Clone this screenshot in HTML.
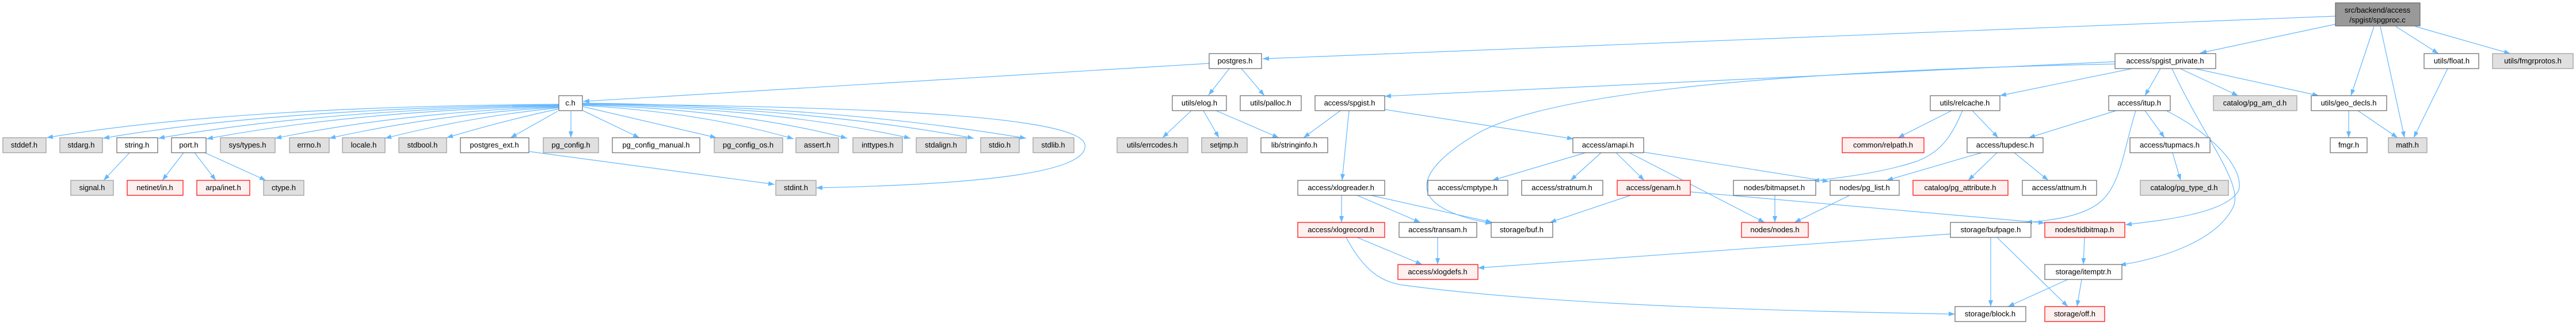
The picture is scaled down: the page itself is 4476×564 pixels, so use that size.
<!DOCTYPE html>
<html><head><meta charset="utf-8"><style>
html,body{margin:0;padding:0;background:#fff;}
svg{display:block;}
text{font-family:"Liberation Sans",sans-serif;font-size:13px;fill:#000;text-anchor:middle;}
.w{fill:#fff;stroke:#666;stroke-width:1.2}
.g{fill:#e0e0e0;stroke:#999;stroke-width:1.2}
.r{fill:#fff0f0;stroke:#f00;stroke-width:1.2}
.e{fill:none;stroke:#63b8ff;stroke-width:1.2;marker-end:url(#a)}
</style></head><body>
<svg width="4476" height="564" viewBox="0 0 4476 564" xmlns="http://www.w3.org/2000/svg">
<defs><marker id="a" markerUnits="userSpaceOnUse" markerWidth="11" markerHeight="8" refX="11" refY="4" orient="auto"><path d="M0,0 L11,4 L0,8 z" fill="#63b8ff"/></marker></defs>
<g>
<!-- root edges -->
<path class="e" d="M4058,28 L2194,102"/>
<path class="e" d="M4058,42 L3823,92"/>
<path class="e" d="M4125,46 L4085,166"/>
<path class="e" d="M4136,46 L4178,239"/>
<path class="e" d="M4163,46 L4237,93"/>
<path class="e" d="M4197,46 L4362,93"/>
<!-- postgres -->
<path class="e" d="M2101,110 L1013,176"/>
<path class="e" d="M2136,119 L2100,165"/>
<path class="e" d="M2157,119 L2197,166"/>
<path class="e" d="M2070,192 L2020,239"/>
<path class="e" d="M2091,192 L2118,239"/>
<path class="e" d="M2113,192 L2222,239"/>
<!-- spgist.h -->
<path class="e" d="M2329,192 L2265,239"/>
<path class="e" d="M2344,192 L2332,313"/>
<path class="e" d="M2406,190 L2734,241"/>
<!-- spgist_private -->
<path class="e" d="M3675,107 L2406,167"/>
<path class="e" d="M3675,111 C3000,125 2680,170 2570,230 C2450,300 2440,360 2592,388"/>
<path class="e" d="M3705,119 L3475,166"/>
<path class="e" d="M3754,119 L3727,166"/>
<path class="e" d="M3788,119 L3889,166"/>
<path class="e" d="M3814,119 L4029,166"/>
<path class="e" d="M3774,119 C3830,240 3900,320 3880,360 C3850,420 3750,450 3683,460"/>
<!-- itup -->
<path class="e" d="M3677,192 L3525,239"/>
<path class="e" d="M3727,192 L3761,239"/>
<path class="e" d="M3711,192 C3690,260 3685,320 3650,350 C3620,375 3570,382 3520,386"/>
<path class="e" d="M3764,192 C3840,230 3900,290 3890,330 C3870,370 3760,382 3693,390"/>
<!-- geo / float -->
<path class="e" d="M4081,192 L4081,239"/>
<path class="e" d="M4097,192 L4166,239"/>
<path class="e" d="M4253,119 L4194,239"/>
<path class="e" d="M3775,265 L3789,313"/>
<!-- relcache -->
<path class="e" d="M3391,192 L3298,239"/>
<path class="e" d="M3427,192 L3472,239"/>
<path class="e" d="M3410,192 C3390,240 3370,265 3330,280 C3270,300 3200,308 3150,314"/>
<!-- tupdesc -->
<path class="e" d="M3443,265 L3278,313"/>
<path class="e" d="M3470,265 L3420,313"/>
<path class="e" d="M3500,265 L3559,313"/>
<!-- amapi -->
<path class="e" d="M2755,265 L2593,313"/>
<path class="e" d="M2782,265 L2729,313"/>
<path class="e" d="M2808,265 L2857,313"/>
<path class="e" d="M2831,265 L3066,386"/>
<path class="e" d="M2856,264 L3178,315"/>
<!-- genam -->
<path class="e" d="M2836,338 L2693,386"/>
<path class="e" d="M2937,333 L3553,387"/>
<path class="e" d="M3084,339 L3084,386"/>
<path class="e" d="M3214,339 L3118,386"/>
<!-- xlogreader -->
<path class="e" d="M2331,339 L2331,386"/>
<path class="e" d="M2358,339 L2468,386"/>
<path class="e" d="M2382,339 L2593,386"/>
<path class="e" d="M2358,412 L2471,459"/>
<path class="e" d="M2339,412 C2370,470 2400,490 2440,495 C2700,530 3100,540 3397,545"/>
<path class="e" d="M2498,412 L2498,459"/>
<!-- bufpage etc -->
<path class="e" d="M3389,406 L2568,465"/>
<path class="e" d="M3459,412 L3459,532"/>
<path class="e" d="M3470,412 L3593,532"/>
<path class="e" d="M3622,412 L3620,459"/>
<path class="e" d="M3593,485 L3489,532"/>
<path class="e" d="M3617,485 L3609,532"/>
<!-- left -->
<path class="e" d="M225,265 L180,313"/>
<path class="e" d="M319,265 L282,313"/>
<path class="e" d="M338,265 L375,313"/>
<path class="e" d="M356,265 L462,313"/>
<path class="e" d="M920,263 L1346,320"/>
<path class="e" d="M1012,180 C1500,185 1870,200 1885,250 C1895,300 1700,320 1418,326"/>
<!-- c.h to row3 -->
<path class="e" d="M971,181 Q400,185 81,239"/>
<path class="e" d="M971,182 Q480,188 179,240"/>
<path class="e" d="M971,183 Q560,190 275,240"/>
<path class="e" d="M971,184 Q620,192 359,241"/>
<path class="e" d="M971,185 Q700,195 478,240"/>
<path class="e" d="M971,186 Q760,198 572,240"/>
<path class="e" d="M971,187 Q820,202 669,240"/>
<path class="e" d="M971,189 Q880,208 776,239"/>
<path class="e" d="M969,193 L887,239"/>
<path class="e" d="M992,193 L992,239"/>
<path class="e" d="M1013,192 L1111,239"/>
<path class="e" d="M1013,185 L1245,239"/>
<path class="e" d="M1013,183 Q1220,195 1379,241"/>
<path class="e" d="M1013,182 Q1280,190 1472,240"/>
<path class="e" d="M1013,181 Q1350,188 1582,240"/>
<path class="e" d="M1013,180 Q1400,186 1692,240"/>
<path class="e" d="M1013,179 Q1450,184 1783,240"/>
</g>
<g>
<rect class="w" x="4058" y="5" width="147" height="40" style="fill:#999"/>
<text x="4131" y="22">src/backend/access</text><text x="4131" y="39">/spgist/spgproc.c</text>

<rect class="w" x="2101" y="93" width="91" height="26"/><text x="2146" y="110">postgres.h</text>
<rect class="w" x="3675" y="93" width="175" height="26"/><text x="3762" y="110">access/spgist_private.h</text>
<rect class="w" x="4212" y="93" width="95" height="26"/><text x="4260" y="110">utils/float.h</text>
<rect class="g" x="4331" y="93" width="140" height="26"/><text x="4401" y="110">utils/fmgrprotos.h</text>

<rect class="w" x="971" y="166" width="41" height="26"/><text x="991" y="183">c.h</text>
<rect class="w" x="2037" y="166" width="94" height="26"/><text x="2084" y="183">utils/elog.h</text>
<rect class="w" x="2155" y="166" width="106" height="26"/><text x="2208" y="183">utils/palloc.h</text>
<rect class="w" x="2285" y="166" width="121" height="26"/><text x="2345" y="183">access/spgist.h</text>
<rect class="w" x="3354" y="166" width="121" height="26"/><text x="3414" y="183">utils/relcache.h</text>
<rect class="w" x="3664" y="166" width="107" height="26"/><text x="3717" y="183">access/itup.h</text>
<rect class="g" x="3846" y="166" width="145" height="26"/><text x="3918" y="183">catalog/pg_am_d.h</text>
<rect class="w" x="4016" y="166" width="131" height="26"/><text x="4081" y="183">utils/geo_decls.h</text>

<rect class="g" x="5" y="239" width="75" height="26"/><text x="42" y="256">stddef.h</text>
<rect class="g" x="104" y="239" width="74" height="26"/><text x="141" y="256">stdarg.h</text>
<rect class="w" x="203" y="239" width="71" height="26"/><text x="238" y="256">string.h</text>
<rect class="w" x="298" y="239" width="60" height="26"/><text x="328" y="256">port.h</text>
<rect class="g" x="383" y="239" width="95" height="26"/><text x="430" y="256">sys/types.h</text>
<rect class="g" x="503" y="239" width="69" height="26"/><text x="537" y="256">errno.h</text>
<rect class="g" x="595" y="239" width="74" height="26"/><text x="632" y="256">locale.h</text>
<rect class="g" x="693" y="239" width="83" height="26"/><text x="734" y="256">stdbool.h</text>
<rect class="w" x="800" y="239" width="119" height="26"/><text x="859" y="256">postgres_ext.h</text>
<rect class="g" x="944" y="239" width="96" height="26"/><text x="992" y="256">pg_config.h</text>
<rect class="w" x="1064" y="239" width="152" height="26"/><text x="1140" y="256">pg_config_manual.h</text>
<rect class="g" x="1241" y="239" width="119" height="26"/><text x="1300" y="256">pg_config_os.h</text>
<rect class="g" x="1383" y="239" width="74" height="26"/><text x="1420" y="256">assert.h</text>
<rect class="g" x="1482" y="239" width="86" height="26"/><text x="1525" y="256">inttypes.h</text>
<rect class="g" x="1592" y="239" width="87" height="26"/><text x="1635" y="256">stdalign.h</text>
<rect class="g" x="1704" y="239" width="67" height="26"/><text x="1737" y="256">stdio.h</text>
<rect class="g" x="1795" y="239" width="71" height="26"/><text x="1830" y="256">stdlib.h</text>
<rect class="g" x="1941" y="239" width="123" height="26"/><text x="2002" y="256">utils/errcodes.h</text>
<rect class="g" x="2088" y="239" width="79" height="26"/><text x="2127" y="256">setjmp.h</text>
<rect class="w" x="2191" y="239" width="116" height="26"/><text x="2249" y="256">lib/stringinfo.h</text>
<rect class="w" x="2733" y="239" width="123" height="26"/><text x="2794" y="256">access/amapi.h</text>
<rect class="r" x="3201" y="239" width="142" height="26"/><text x="3272" y="256">common/relpath.h</text>
<rect class="w" x="3418" y="239" width="132" height="26"/><text x="3484" y="256">access/tupdesc.h</text>
<rect class="w" x="3701" y="239" width="139" height="26"/><text x="3770" y="256">access/tupmacs.h</text>
<rect class="w" x="4049" y="239" width="64" height="26"/><text x="4081" y="256">fmgr.h</text>
<rect class="g" x="4150" y="239" width="67" height="26"/><text x="4183" y="256">math.h</text>

<rect class="g" x="123" y="313" width="74" height="26"/><text x="160" y="330">signal.h</text>
<rect class="r" x="221" y="313" width="97" height="26"/><text x="269" y="330">netinet/in.h</text>
<rect class="r" x="342" y="313" width="92" height="26"/><text x="388" y="330">arpa/inet.h</text>
<rect class="g" x="458" y="313" width="70" height="26"/><text x="493" y="330">ctype.h</text>
<rect class="g" x="1348" y="313" width="70" height="26"/><text x="1383" y="330">stdint.h</text>
<rect class="w" x="2255" y="313" width="151" height="26"/><text x="2330" y="330">access/xlogreader.h</text>
<rect class="w" x="2481" y="313" width="139" height="26"/><text x="2550" y="330">access/cmptype.h</text>
<rect class="w" x="2644" y="313" width="141" height="26"/><text x="2714" y="330">access/stratnum.h</text>
<rect class="r" x="2810" y="313" width="127" height="26"/><text x="2873" y="330">access/genam.h</text>
<rect class="w" x="3012" y="313" width="143" height="26"/><text x="3083" y="330">nodes/bitmapset.h</text>
<rect class="w" x="3180" y="313" width="120" height="26"/><text x="3240" y="330">nodes/pg_list.h</text>
<rect class="r" x="3324" y="313" width="165" height="26"/><text x="3406" y="330">catalog/pg_attribute.h</text>
<rect class="w" x="3514" y="313" width="129" height="26"/><text x="3578" y="330">access/attnum.h</text>
<rect class="g" x="3719" y="313" width="153" height="26"/><text x="3795" y="330">catalog/pg_type_d.h</text>

<rect class="r" x="2255" y="386" width="151" height="26"/><text x="2330" y="403">access/xlogrecord.h</text>
<rect class="w" x="2431" y="386" width="135" height="26"/><text x="2498" y="403">access/transam.h</text>
<rect class="w" x="2591" y="386" width="107" height="26"/><text x="2644" y="403">storage/buf.h</text>
<rect class="r" x="3026" y="386" width="116" height="26"/><text x="3084" y="403">nodes/nodes.h</text>
<rect class="w" x="3389" y="386" width="140" height="26"/><text x="3459" y="403">storage/bufpage.h</text>
<rect class="r" x="3553" y="386" width="139" height="26"/><text x="3622" y="403">nodes/tidbitmap.h</text>

<rect class="r" x="2429" y="459" width="139" height="26"/><text x="2498" y="476">access/xlogdefs.h</text>
<rect class="w" x="3553" y="459" width="134" height="26"/><text x="3620" y="476">storage/itemptr.h</text>

<rect class="w" x="3397" y="532" width="123" height="26"/><text x="3458" y="549">storage/block.h</text>
<rect class="r" x="3553" y="532" width="104" height="26"/><text x="3605" y="549">storage/off.h</text>
</g>
</svg>
</body></html>
